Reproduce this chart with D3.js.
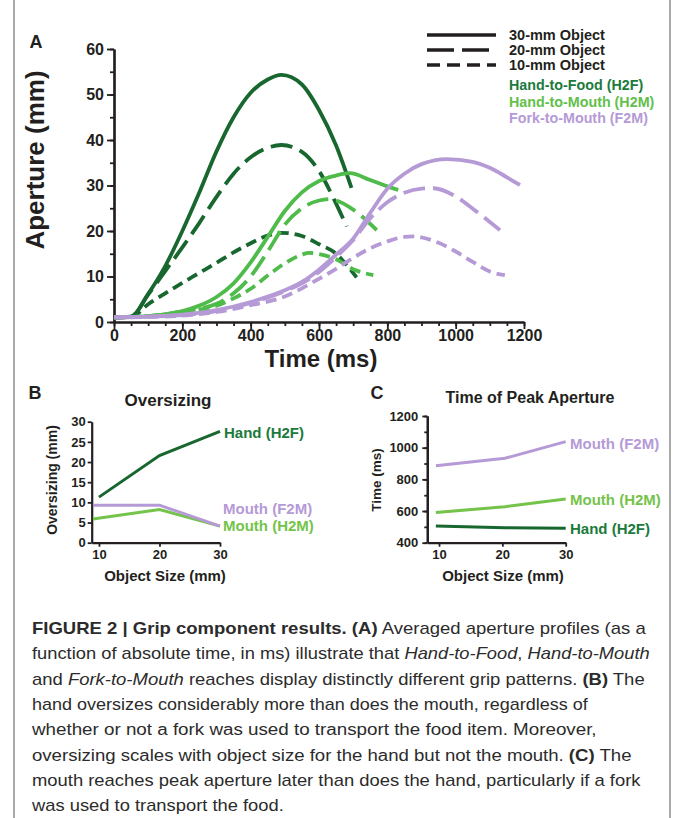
<!DOCTYPE html>
<html lang="en">
<head>
<meta charset="utf-8">
<title>Grip component results</title>
<script src="https://cdn.jsdelivr.net/npm/d3@7"></script>
<style>
  body { margin: 0; background: #fff; }
  svg text { font-family: "Liberation Sans", Arial, Helvetica, sans-serif; white-space: pre; }
  .axis path, .axis line { stroke: #231f20; }
  .axis text { font-weight: bold; fill: #231f20; font-family: "Liberation Sans", Arial, sans-serif; }
</style>
</head>
<body>
<svg id="fig" width="675" height="818"></svg>
<script>
// --- panel A: averaged aperture profiles, [time (ms), aperture (mm)]
var h2f30 = [[0,1.0],[50,1.2],[100,6.2],[150,12.3],[200,20.0],[250,28.5],[300,37.5],[350,45.0],[400,50.4],[450,53.3],[490,54.3],[550,52.2],[600,46.6],[650,38.8],[695,29.5]];
var h2f20 = [[0,1.0],[50,1.2],[100,6.0],[150,11.2],[200,16.4],[250,21.8],[300,27.5],[350,32.6],[400,36.2],[450,38.3],[490,38.9],[550,37.4],[600,33.2],[650,26.0],[681,21.0]];
var h2f10 = [[0,1.0],[50,1.1],[100,3.9],[150,6.3],[200,8.6],[250,10.8],[300,13.0],[350,15.3],[400,17.3],[450,19.0],[490,19.6],[550,18.9],[600,17.1],[650,15.0],[680,12.6],[710,9.8]];
var h2m30 = [[0,1.0],[100,1.3],[150,1.7],[200,2.4],[250,3.6],[300,5.5],[350,8.5],[400,13.1],[450,18.7],[500,24.4],[550,28.5],[600,31.0],[650,32.2],[690,32.7],[750,31.2],[800,29.8],[832,29.0]];
var h2m20 = [[0,1.0],[100,1.3],[150,1.7],[200,2.3],[250,2.9],[300,4.0],[350,6.3],[400,10.0],[450,15.5],[500,21.4],[550,25.0],[600,26.7],[630,27.0],[650,26.7],[700,24.7],[769,20.2]];
var h2m10 = [[0,1.0],[100,1.3],[150,1.7],[200,2.2],[250,2.7],[300,3.6],[350,5.2],[400,7.3],[450,10.2],[500,12.9],[550,14.8],[570,15.2],[600,14.9],[650,13.8],[700,11.6],[759,10.3]];
var f2m30 = [[0,1.0],[100,1.2],[200,1.6],[300,2.6],[400,4.4],[450,5.6],[500,7.0],[550,8.8],[600,11.5],[650,14.8],[700,18.3],[750,24.0],[800,29.3],[850,32.6],[900,34.7],[975,35.8],[1050,35.2],[1100,33.9],[1150,31.8],[1188,30.1]];
var f2m20 = [[0,1.0],[100,1.2],[200,1.5],[300,2.4],[400,4.2],[500,6.8],[550,8.5],[600,11.0],[650,14.3],[700,18.0],[750,22.8],[800,26.3],[850,28.4],[900,29.3],[935,29.4],[1000,27.6],[1050,24.9],[1100,22.0],[1130,20.2]];
var f2m10 = [[0,1.0],[100,1.1],[200,1.4],[300,2.2],[400,3.7],[500,5.6],[550,7.4],[600,9.5],[650,11.7],[700,14.1],[750,16.2],[800,17.7],[850,18.7],[876,18.8],[950,17.4],[1000,15.5],[1050,13.2],[1100,11.1],[1144,10.3]];

var sizeLabels = ["30-mm Object", "20-mm Object", "10-mm Object"];
var reachLabels = ["Hand-to-Food (H2F)", "Hand-to-Mouth (H2M)", "Fork-to-Mouth (F2M)"];

// --- panel B: oversizing (mm) by object size (mm)
var handSizes = [10, 20, 30];
var mouthSizes = [9, 20, 30];
var oversizeHand = [11.3, 21.6, 27.6];
var oversizeF2M = [9.3, 9.3, 4.1];
var oversizeH2M = [5.9, 8.2, 4.1];

// --- panel C: time of peak aperture (ms) by object size (mm)
var peakSizes = [9.5, 20.4, 30];
var peakF2M = [886, 933, 1038];
var peakH2M = [591, 627, 676];
var peakHand = [505, 495, 491];

var cH2F = "#17672f", cH2M = "#4fbb4a", cF2M = "#b59ad6";
var tH2F = "#1b7a3c", tH2M = "#62c04b", tF2M = "#b59ad6";
var cH2Mlight = "#74c34a";
var ink = "#231f20";

var svg = d3.select("#fig");

// frame of the figure
svg.append("line").attr("x1", 14).attr("x2", 14).attr("y1", 0).attr("y2", 818)
  .attr("stroke", "#8c8c8c").attr("stroke-width", 1.5);
svg.append("line").attr("x1", 670).attr("x2", 670).attr("y1", 0).attr("y2", 818)
  .attr("stroke", "#8c8c8c").attr("stroke-width", 1.5);

function styleAxis(g, fontSize) {
  g.attr("class", "axis");
  g.select(".domain").attr("stroke-width", 2.2);
  g.selectAll(".tick line").attr("stroke-width", 1.8);
  g.selectAll(".tick text").attr("font-size", fontSize);
  return g;
}

function label(x, y, txt, size, color, anchor, rotate) {
  var t = svg.append("text")
    .attr("x", x).attr("y", y)
    .attr("font-size", size).attr("font-weight", "bold")
    .attr("fill", color || ink)
    .attr("text-anchor", anchor || "start")
    .attr("dominant-baseline", "central")
    .text(txt);
  if (rotate) t.attr("transform", "rotate(-90," + x + "," + y + ")");
  return t;
}

var fmt = d3.format("d");

// ================= panel A =================
var xA = d3.scaleLinear().domain([0, 1200]).range([114, 524]);
var yA = d3.scaleLinear().domain([0, 60]).range([322, 49]);

styleAxis(svg.append("g").attr("transform", "translate(0,322)")
  .call(d3.axisBottom(xA).tickValues(d3.range(0, 1201, 50)).tickSize(4).tickSizeOuter(0).tickFormat("")), 16);
styleAxis(svg.append("g").attr("transform", "translate(0,322)")
  .call(d3.axisBottom(xA).tickValues(d3.range(0, 1201, 200)).tickSize(7).tickSizeOuter(0).tickPadding(1).tickFormat(fmt)), 16);
styleAxis(svg.append("g").attr("transform", "translate(114,0)")
  .call(d3.axisLeft(yA).tickValues(d3.range(0, 61, 5)).tickSize(4).tickSizeOuter(0).tickFormat("")), 16);
styleAxis(svg.append("g").attr("transform", "translate(114,0)")
  .call(d3.axisLeft(yA).tickValues(d3.range(0, 61, 10)).tickSize(7).tickSizeOuter(0).tickPadding(3).tickFormat(fmt)), 16);

var lineA = d3.line()
  .x(function(d) { return xA(d[0]); })
  .y(function(d) { return yA(d[1]); })
  .curve(d3.curveMonotoneX);

var dash20 = "22,8", dash10 = "11,6";
var profiles = [
  { data: h2f10, color: cH2F, dash: dash10 },
  { data: h2f20, color: cH2F, dash: dash20 },
  { data: h2f30, color: cH2F, dash: null },
  { data: h2m10, color: cH2M, dash: dash10 },
  { data: h2m20, color: cH2M, dash: dash20 },
  { data: h2m30, color: cH2M, dash: null },
  { data: f2m10, color: cF2M, dash: dash10 },
  { data: f2m20, color: cF2M, dash: dash20 },
  { data: f2m30, color: cF2M, dash: null }
];
svg.append("g").selectAll("path").data(profiles).enter().append("path")
  .attr("d", function(d) { return lineA(d.data); })
  .attr("fill", "none")
  .attr("stroke", function(d) { return d.color; })
  .attr("stroke-width", 3.8)
  .attr("stroke-dasharray", function(d) { return d.dash; });

// legend
var legendDash = [null, "27,8", "13,7"];
sizeLabels.forEach(function(s, i) {
  var y = 35 + i * 15;
  svg.append("line").attr("x1", 427).attr("x2", 496).attr("y1", y).attr("y2", y)
    .attr("stroke", ink).attr("stroke-width", 3.4).attr("stroke-dasharray", legendDash[i]);
  label(509, y, s, 14.5);
});
var reachColors = [tH2F, tH2M, tF2M];
reachLabels.forEach(function(s, i) {
  label(509, 85 + i * 16.5, s, 14.3, reachColors[i]);
});

label(36, 42, "A", 18, ink, "middle");
label(321, 358, "Time (ms)", 24, ink, "middle");
label(35, 160, "Aperture (mm)", 26, ink, "middle", true);

// ================= panel B =================
var xB = d3.scaleLinear().domain([8.8, 30]).range([91.7, 220]);
var yB = d3.scaleLinear().domain([0, 30]).range([542.7, 421.7]);

styleAxis(svg.append("g").attr("transform", "translate(0,542.7)")
  .call(d3.axisBottom(xB).tickValues([10, 20, 30]).tickSize(4).tickSizeOuter(0).tickPadding(3).tickFormat(fmt)), 13);
styleAxis(svg.append("g").attr("transform", "translate(91.7,0)")
  .call(d3.axisLeft(yB).tickValues(d3.range(0, 31, 5)).tickSize(4).tickSizeOuter(0).tickPadding(2).tickFormat(fmt)), 13);

function small(x, y, sizes, vals, color) {
  svg.append("path")
    .datum(sizes.map(function(s, i) { return [s, vals[i]]; }))
    .attr("d", d3.line().x(function(d) { return x(d[0]); }).y(function(d) { return y(d[1]); }))
    .attr("fill", "none").attr("stroke", color).attr("stroke-width", 3);
}
small(xB, yB, mouthSizes, oversizeH2M, cH2Mlight);
small(xB, yB, mouthSizes, oversizeF2M, cF2M);
small(xB, yB, handSizes, oversizeHand, cH2F);

label(224, 432, "Hand (H2F)", 15, tH2F);
label(223, 508, "Mouth (F2M)", 15, tF2M);
label(223, 525, "Mouth (H2M)", 15, cH2Mlight);

label(35, 393, "B", 18, ink, "middle");
label(168, 400, "Oversizing", 17, ink, "middle");
label(165, 575, "Object Size (mm)", 15, ink, "middle");
label(52, 480, "Oversizing (mm)", 14, ink, "middle", true);

// ================= panel C =================
var xC = d3.scaleLinear().domain([8.15, 30]).range([427.3, 565.7]);
var yC = d3.scaleLinear().domain([400, 1200]).range([542.7, 416]);

styleAxis(svg.append("g").attr("transform", "translate(0,542.7)")
  .call(d3.axisBottom(xC).tickValues([10, 20, 30]).tickSize(4).tickSizeOuter(0).tickPadding(3).tickFormat(fmt)), 13);
styleAxis(svg.append("g").attr("transform", "translate(427.3,0)")
  .call(d3.axisLeft(yC).tickValues(d3.range(400, 1201, 100)).tickSize(3).tickSizeOuter(0).tickFormat("")), 13);
styleAxis(svg.append("g").attr("transform", "translate(427.3,0)")
  .call(d3.axisLeft(yC).tickValues(d3.range(400, 1201, 200)).tickSize(5).tickSizeOuter(0).tickPadding(4).tickFormat(fmt)), 13);

small(xC, yC, peakSizes, peakF2M, cF2M);
small(xC, yC, peakSizes, peakH2M, cH2Mlight);
small(xC, yC, peakSizes, peakHand, cH2F);

label(570, 443, "Mouth (F2M)", 15, tF2M);
label(570, 499, "Mouth (H2M)", 15, cH2Mlight);
label(570, 528, "Hand (H2F)", 15, tH2F);

label(377, 393, "C", 18, ink, "middle");
label(530, 397, "Time of Peak Aperture", 16, ink, "middle");
label(503, 575, "Object Size (mm)", 15, ink, "middle");
label(376, 480, "Time (ms)", 13.5, ink, "middle", true);

// ================= caption =================
var captionLines = [
  [["b", "FIGURE 2 | Grip component results. (A)"], ["n", " Averaged aperture profiles (as a"]],
  [["n", "function of absolute time, in ms) illustrate that "], ["i", "Hand-to-Food"], ["n", ", "], ["i", "Hand-to-Mouth"]],
  [["n", "and "], ["i", "Fork-to-Mouth"], ["n", " reaches display distinctly different grip patterns. "], ["b", "(B)"], ["n", " The"]],
  [["n", "hand oversizes considerably more than does the mouth, regardless of"]],
  [["n", "whether or not a fork was used to transport the food item. Moreover,"]],
  [["n", "oversizing scales with object size for the hand but not the mouth. "], ["b", "(C)"], ["n", " The"]],
  [["n", "mouth reaches peak aperture later than does the hand, particularly if a fork"]],
  [["n", "was used to transport the food."]]
];
var captionEnds = [646, 650, 645, 588, 597, 632, 641, 284];

captionLines.forEach(function(parts, i) {
  var y = 634 + i * 25.3;
  var t = svg.append("text").attr("x", 0).attr("y", 0)
    .attr("font-size", 16).attr("fill", "#2b2b2b");
  parts.forEach(function(p) {
    t.append("tspan")
      .attr("font-weight", p[0] == "b" ? "bold" : "normal")
      .attr("font-style", p[0] == "i" ? "italic" : "normal")
      .text(p[1]);
  });
  var w = t.node().getComputedTextLength();
  var k = (captionEnds[i] - 32) / w;
  t.attr("transform", "translate(32," + y + ") scale(" + k + ",1)");
});
</script>
</body>
</html>
